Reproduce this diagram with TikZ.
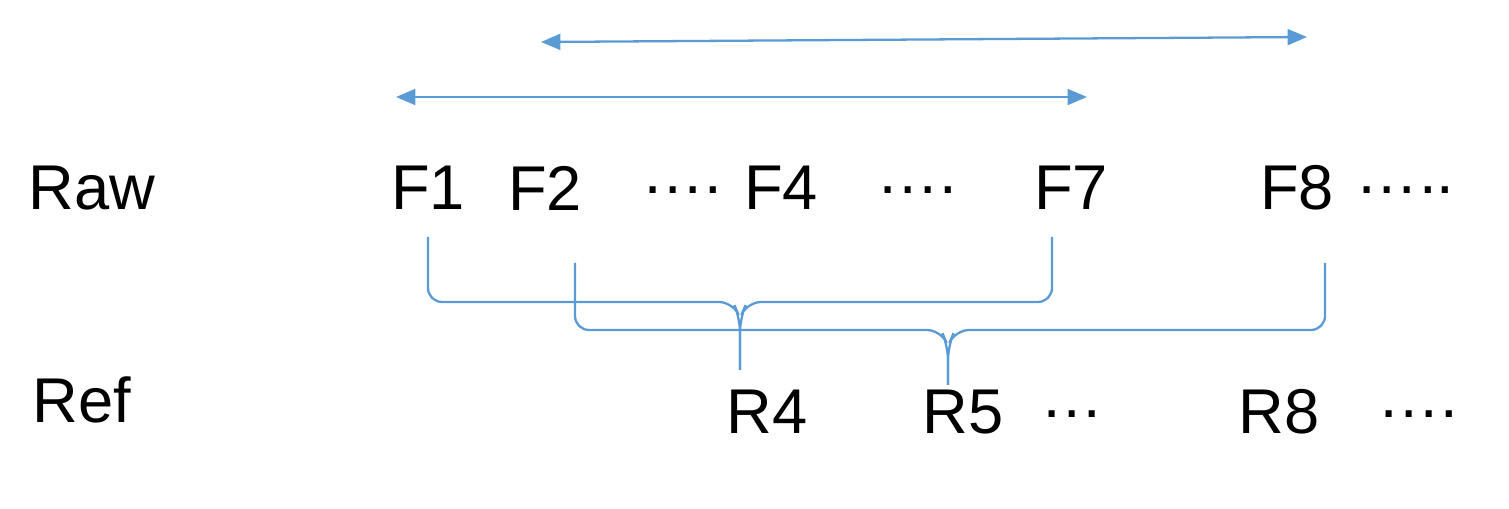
\documentclass[tikz,border=0pt]{standalone}
\usepackage{fontspec}
\setmainfont{Liberation Sans}
\usetikzlibrary{arrows.meta}
\definecolor{lb}{RGB}{91,155,213}
\begin{document}
\begin{tikzpicture}[x=0.02cm,y=-0.02cm,
  t/.style={font=\fontsize{36}{40}\selectfont,inner sep=0pt,anchor=center},
  ar/.style={lb,line width=1.3pt,{Triangle[length=11pt,width=9pt]}-{Triangle[length=11pt,width=9pt]}},
  br/.style={lb,line width=1.3pt,rounded corners=8pt}]
\useasboundingbox (0,0) rectangle (1509,509);
\node[t] (raw) at (92,188) {Raw};
\node[t] (f1) at (428,188) {F1};
\node[t] (f2) at (545,188) {F2};
\node[t] (d1) at (682,190) {….};
\node[t] (f4) at (781,188) {F4};
\node[t] (d2) at (917,190) {….};
\node[t] (f7) at (1071,188) {F7};
\node[t] (f8) at (1297,188) {F8};
\node[t] (d3) at (1405,190) {…..};
\node[t] (ref) at (82,400) {Ref};
\node[t] (r4) at (767,412) {R4};
\node[t] (r5) at (963,412) {R5};
\node[t] (d4) at (1072,414) {…};
\node[t] (r8) at (1279,412) {R8};
\node[t] (d5) at (1418,414) {….};
\coordinate (a1) at (541,42); \coordinate (a2) at (1307,37);
\coordinate (b1) at (396,97); \coordinate (b2) at (1087,97);
\draw[ar] (a1) -- (a2);
\draw[ar] (b1) -- (b2);
\coordinate (p1) at (428,237); \coordinate (p2) at (1052,237); \coordinate (m1) at (740,370);
\coordinate (q1) at (575,263); \coordinate (q2) at (1325,263); \coordinate (m2) at (948,385);
\draw[br] (p1) -- (428,302) -- (733,302) -- (740,318) -- (m1);
\draw[br] (m1) -- (740,318) -- (747,302) -- (1052,302) -- (p2);
\draw[br] (q1) -- (575,330) -- (941,330) -- (948,346) -- (m2);
\draw[br] (m2) -- (948,346) -- (955,330) -- (1325,330) -- (q2);
\end{tikzpicture}
\end{document}
